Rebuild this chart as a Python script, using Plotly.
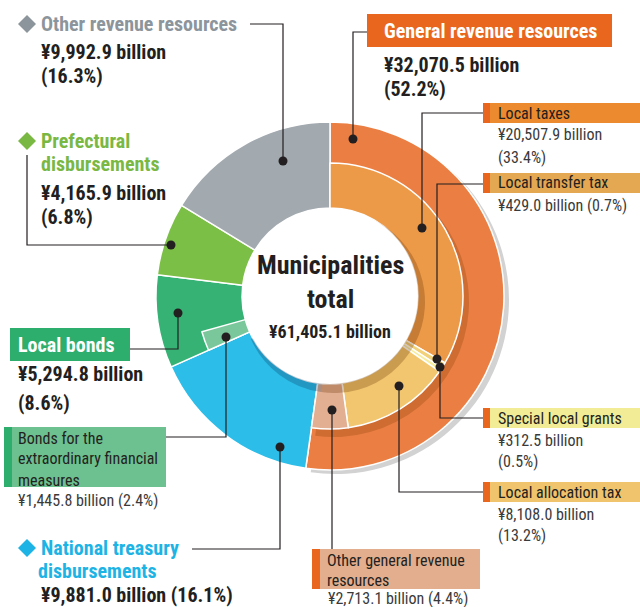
import plotly.graph_objects as go

# municipal revenue, billion yen
outer_labels = ['General revenue resources', 'National treasury disbursements', 'Local bonds',
                'Prefectural disbursements', 'Other revenue resources']
outer_values = [32070.5, 9881.0, 5294.8, 4165.9, 9992.9]
outer_pct = [52.2, 16.1, 8.6, 6.8, 16.3]

# breakdown of general revenue + the bonds for extraordinary financial measures
gen_labels = ['Local taxes', 'Local transfer tax', 'Special local grants',
              'Local allocation tax', 'Other general revenue resources']
gen_values = [20507.9, 429.0, 312.5, 8108.0, 2713.1]
gen_pct = [33.4, 0.7, 0.5, 13.2, 4.4]
extra_bonds_value = 1445.8
extra_bonds_pct = 2.4
total = 61405.1

W, H = 640, 607
CX, CY = 330, 296
R_OUT, R_MID, R_HOLE = 174, 133, 88
FONT = "Liberation Sans Narrow, Arial Narrow, Roboto Condensed, DejaVu Sans Condensed, sans-serif"
DARK = '#231F20'
CLEAR = 'rgba(0,0,0,0)'


def X(px):
    return px / W


def Y(py):
    return 1 - py / H


def dom(cx, cy, r):
    return dict(x=[X(cx - r), X(cx + r)], y=[Y(cy + r), Y(cy - r)])


def pie(values, colors, cx, cy, r, hole, lw=0, lc='white'):
    return go.Pie(values=values, marker=dict(colors=colors, line=dict(color=lc, width=lw)),
                  domain=dom(cx, cy, r), hole=hole, sort=False, direction='clockwise',
                  rotation=0, textinfo='none', hoverinfo='skip', showlegend=False)


outer_colors = ['#EB7F43', '#2CBDE8', '#36B274', '#7CBF46', '#A2A9AF']
gen_colors = ['#EC9A48', '#F1D27A', '#F6EE9E', '#F2C66F', '#E2AF92']

# inner ring: general revenue pieces, gap over national treasury, extra bonds, rest clear
inner_values = gen_values + [outer_values[1], extra_bonds_value,
                             outer_values[2] - extra_bonds_value + outer_values[3] + outer_values[4]]
inner_colors = gen_colors + [CLEAR, '#79C79B', CLEAR]
inner_lw = [1.5] * 5 + [0, 1.5, 0]

fig = go.Figure()
# drop shadow of the general revenue ring
fig.add_trace(pie(outer_values, ['#D2D2D2', CLEAR, CLEAR, CLEAR, CLEAR], CX + 5, CY + 4, R_OUT, 0.5))
fig.add_trace(pie(outer_values, outer_colors, CX, CY, R_OUT, R_HOLE / R_OUT, lw=1.5))
# shadow of inner ring on outer band
fig.add_trace(pie(outer_values, ['rgba(120,50,0,0.25)', CLEAR, CLEAR, CLEAR, CLEAR], CX + 4, CY + 6, R_MID + 2, 0))
fig.add_trace(go.Pie(values=inner_values,
                     marker=dict(colors=inner_colors, line=dict(color='white', width=inner_lw)),
                     domain=dom(CX, CY, R_MID), hole=R_HOLE / R_MID, sort=False, direction='clockwise',
                     textinfo='none', hoverinfo='skip', showlegend=False))
# shadow of the hole
fig.add_trace(pie(outer_values, ['rgba(100,45,0,0.28)', 'rgba(0,40,80,0.25)', CLEAR, CLEAR, CLEAR],
                  CX + 4, CY + 6, R_HOLE + 3, 0))
fig.add_trace(pie([1], ['white'], CX, CY, R_HOLE, 0))

shapes = []
annotations = []


def txt(x, y, s, size, color=DARK, bold=False, anchor='left'):
    annotations.append(dict(x=X(x), y=Y(y), xref='paper', yref='paper', text=s, showarrow=False,
                            xanchor=anchor, yanchor='middle',
                            font=dict(family=FONT, size=size, color=color,
                                      weight='bold' if bold else 'normal')))


def rect(x0, y0, x1, y1, color):
    shapes.append(dict(type='rect', xref='paper', yref='paper', x0=X(x0), x1=X(x1), y0=Y(y1), y1=Y(y0),
                       fillcolor=color, line=dict(width=0)))


def diamond(cx, cy, color, r=9):
    d = f'M {X(cx - r)},{Y(cy)} L {X(cx)},{Y(cy - r)} L {X(cx + r)},{Y(cy)} L {X(cx)},{Y(cy + r)} Z'
    shapes.append(dict(type='path', xref='paper', yref='paper', path=d, fillcolor=color, line=dict(width=0)))


def leader(points):
    d = 'M ' + ' L '.join(f'{X(px):.5f},{Y(py):.5f}' for px, py in points)
    shapes.append(dict(type='path', xref='paper', yref='paper', path=d, line=dict(color=DARK, width=1.2)))
    px, py = points[-1]
    r = 4.5
    shapes.append(dict(type='circle', xref='paper', yref='paper', x0=X(px - r), x1=X(px + r),
                       y0=Y(py + r), y1=Y(py - r), fillcolor=DARK, line=dict(width=0)))


def yen(v):
    return f'¥{v:,.1f} billion'


# centre
txt(CX, 265, 'Municipalities', 26, bold=True, anchor='center')
txt(CX, 299, 'total', 26, bold=True, anchor='center')
txt(CX, 331, yen(total), 18, bold=True, anchor='center')

# Other revenue resources
diamond(27, 24, '#8C959C')
txt(39, 24, outer_labels[4], 20, '#8C959C', True)
txt(39, 52, yen(outer_values[4]), 20, bold=True)
txt(39, 76, f'({outer_pct[4]}%)', 20, bold=True)
leader([(250, 24), (283, 24), (283, 161)])

# Prefectural disbursements
diamond(27, 141, '#7AB844')
txt(39, 141, 'Prefectural', 20, '#7AB844', True)
txt(39, 164, 'disbursements', 20, '#7AB844', True)
txt(39, 193, yen(outer_values[3]), 20, bold=True)
txt(39, 217, f'({outer_pct[3]}%)', 20, bold=True)
leader([(27, 155), (27, 245), (171, 245)])

# Local bonds
rect(10, 328, 130, 361, '#2EAE6C')
txt(16, 345, outer_labels[2], 20, 'white', True)
txt(16, 374, yen(outer_values[2]), 20, bold=True)
txt(16, 403, f'({outer_pct[2]}%)', 20, bold=True)
leader([(130, 349), (178, 349), (178, 313)])

# Bonds for the extraordinary financial measures
rect(4, 427, 166, 487, '#6DC08F')
rect(4, 427, 12, 487, '#2EAE6C')
txt(16, 438, 'Bonds for the', 16)
txt(16, 459, 'extraordinary financial', 16)
txt(16, 480, 'measures', 16)
txt(16, 500, f'{yen(extra_bonds_value)} ({extra_bonds_pct}%)', 16, '#3A3A3A')
leader([(166, 437), (226, 437), (226, 337)])

# National treasury disbursements
diamond(27, 548, '#1DB4E5')
txt(39, 548, 'National treasury', 20, '#1DB4E5', True)
txt(36, 571, 'disbursements', 20, '#1DB4E5', True)
txt(39, 595, f'{yen(outer_values[1])} ({outer_pct[1]}%)', 20, bold=True)
leader([(192, 549), (280, 549), (280, 447)])

# General revenue resources
rect(367, 14, 612, 47, '#E8661E')
txt(382, 31, outer_labels[0], 20, 'white', True)
txt(382, 65, yen(outer_values[0]), 20, bold=True)
txt(382, 89, f'({outer_pct[0]}%)', 20, bold=True)
leader([(367, 32), (353, 32), (353, 139)])

# sub-items on the right
box_fill = ['#EC8A2F', '#E4A752', '#F3EC97', '#F0C46D']
box_top = [103, 173, 408, 482]
for i in range(4):
    rect(483, box_top[i], 640, box_top[i] + 20, box_fill[i])
    rect(483, box_top[i], 490, box_top[i] + 20, '#E8661E')
    txt(496, box_top[i] + 10, gen_labels[i], 16)

txt(496, 135, yen(gen_values[0]), 16, '#3A3A3A')
txt(496, 157, f'({gen_pct[0]}%)', 16, '#3A3A3A')
leader([(483, 113), (422, 113), (422, 228)])

txt(496, 205, f'{yen(gen_values[1])} ({gen_pct[1]}%)', 16, '#3A3A3A')
leader([(483, 184), (437, 184), (437, 359)])

txt(496, 440, yen(gen_values[2]), 16, '#3A3A3A')
txt(496, 461, f'({gen_pct[2]}%)', 16, '#3A3A3A')
leader([(483, 418), (440, 418), (440, 367)])

txt(496, 514, yen(gen_values[3]), 16, '#3A3A3A')
txt(496, 535, f'({gen_pct[3]}%)', 16, '#3A3A3A')
leader([(483, 492), (399, 492), (399, 386)])

# Other general revenue resources
rect(312, 549, 480, 589, '#E2AE8E')
rect(312, 549, 320, 589, '#E8661E')
txt(325, 560, 'Other general revenue', 16)
txt(325, 580, 'resources', 16)
txt(326, 598, f'{yen(gen_values[4])} ({gen_pct[4]}%)', 16, '#3A3A3A')
leader([(332, 549), (332, 410)])

fig.update_layout(width=W, height=H, margin=dict(l=0, r=0, t=0, b=0),
                  paper_bgcolor='white', plot_bgcolor='white',
                  shapes=shapes, annotations=annotations)
# page body has a default 8px margin; drop it so the chart sits at the window corner
fig.write_html("out.html", config={'displayModeBar': False},
               post_script="document.body.style.margin='0';")
